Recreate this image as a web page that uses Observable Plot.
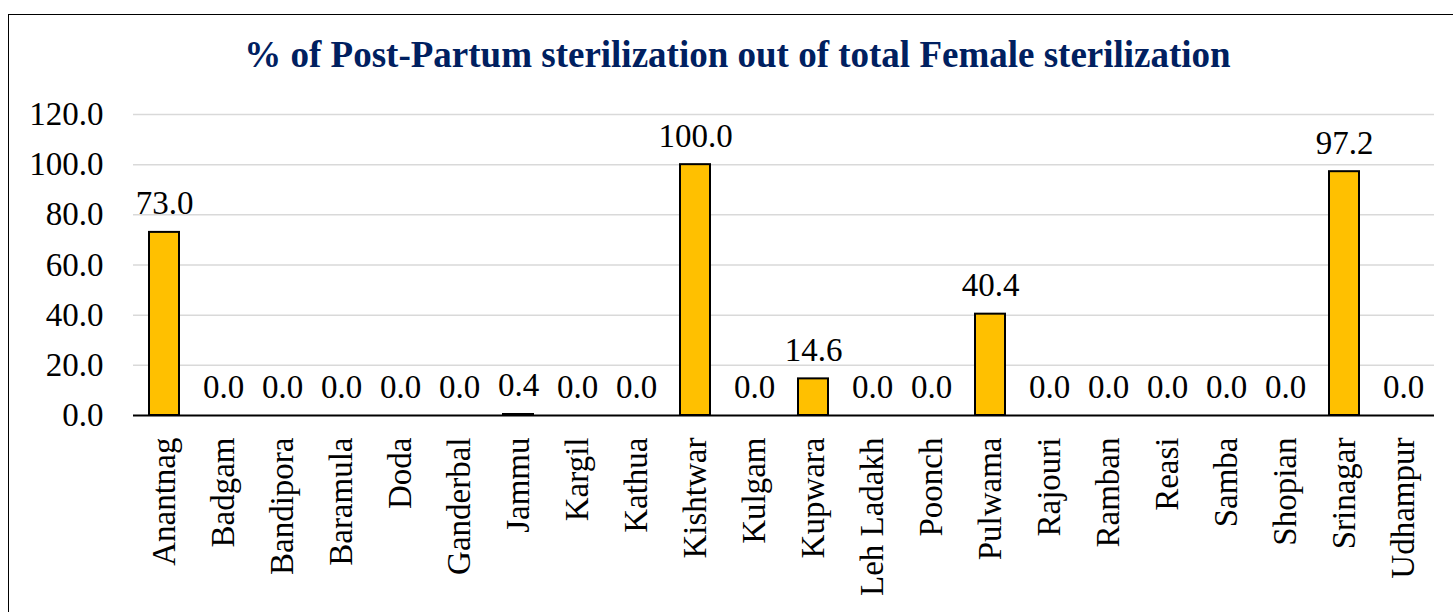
<!DOCTYPE html>
<html>
<head>
<meta charset="utf-8">
<script src="https://cdn.jsdelivr.net/npm/d3@7"></script>
<script src="https://cdn.jsdelivr.net/npm/@observablehq/plot@0.6"></script>
<style>
  html, body { margin: 0; padding: 0; background: #fff; }
  #wrap { position: relative; width: 1453px; height: 612px; overflow: hidden; background: #fff; }
  #frame { position: absolute; left: 8px; top: 14px; width: 1460px; height: 620px; border: 1.5px solid #000; box-sizing: border-box; }
  #title { position: absolute; left: 0; top: 35px; width: 1475px; text-align: center; font-family: "Liberation Serif", "Times New Roman", serif; font-weight: bold; font-size: 37px; color: #002060; line-height: 40px; white-space: nowrap; }
  #chart { position: absolute; left: 0; top: 0; }
  #chart svg, #chart svg text { font-family: "Liberation Serif", "Times New Roman", serif !important; }
</style>
</head>
<body>
<div id="wrap">
  <div id="frame"></div>
  <div id="title">% of Post-Partum sterilization out of total Female sterilization</div>
  <div id="chart"></div>
</div>
<script>
const districts = ["Anantnag","Badgam","Bandipora","Baramula","Doda","Ganderbal","Jammu","Kargil","Kathua","Kishtwar","Kulgam","Kupwara","Leh Ladakh","Poonch","Pulwama","Rajouri","Ramban","Reasi","Samba","Shopian","Srinagar","Udhampur"];
const values = [73.0,0.0,0.0,0.0,0.0,0.0,0.4,0.0,0.0,100.0,0.0,14.6,0.0,0.0,40.4,0.0,0.0,0.0,0.0,0.0,97.2,0.0];
const yTicks = [0,20,40,60,80,100,120];

const data = districts.map((d, i) => ({district: d, value: values[i]}));
const font = '"Liberation Serif", "Times New Roman", serif';

const chart = Plot.plot({
  width: 1453,
  height: 612,
  marginLeft: 133,
  marginRight: 19,
  marginTop: 114,
  marginBottom: 197,
  style: {fontFamily: font, fontSize: "33px", color: "#000", background: "transparent", overflow: "visible"},
  x: {domain: districts, paddingInner: 0.5, paddingOuter: 0.25, label: null},
  y: {domain: [0, 120], label: null},
  marks: [
    Plot.gridY(yTicks.filter(t => t > 0), {stroke: "#d9d9d9", strokeOpacity: 1, strokeWidth: 1.5}),
    Plot.axisY({ticks: yTicks, tickFormat: d => d.toFixed(1), tickSize: 0, tickPadding: 30, label: null, fontSize: 33}),
    Plot.axisX({tickRotate: -90, tickSize: 0, tickPadding: 22, label: null, fontSize: 33}),
    Plot.barY(data, {x: "district", y: "value", fill: "#FFC000", stroke: "#000", strokeWidth: 2}),
    Plot.ruleY([0], {stroke: "#000", strokeWidth: 2}),
    Plot.text(data, {x: "district", y: "value", text: d => d.value.toFixed(1), lineAnchor: "bottom", dy: -18, fontSize: 33, fill: "#000"})
  ]
});
document.getElementById("chart").appendChild(chart);
</script>
</body>
</html>
